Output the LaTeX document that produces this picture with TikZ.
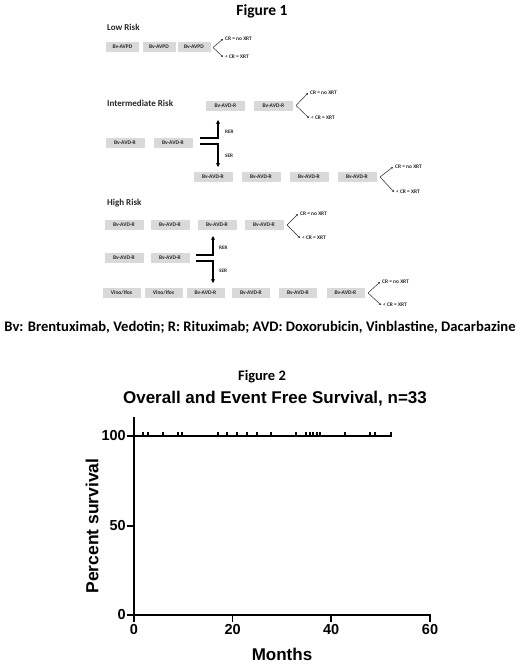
\documentclass[tikz,border=0pt]{standalone}
\usepackage{fontspec}
\setmainfont{Carlito}
\newfontfamily\arialf{Liberation Sans}
\usetikzlibrary{arrows.meta}
\definecolor{boxgray}{HTML}{D9D9D9}
\definecolor{txtgray}{HTML}{262626}
\begin{document}
\begin{tikzpicture}[x=1pt,y=-1pt,
  tbox/.style={fill=boxgray, minimum width=39pt, minimum height=10pt, inner sep=0pt,
    text=txtgray, font=\fontsize{5.5}{6}\selectfont\bfseries},
  sbox/.style={tbox, minimum width=33pt},
  brtxt/.style={anchor=west, inner sep=0pt, text=txtgray, font=\fontsize{5.4}{6}\selectfont\bfseries},
  br/.style={draw=txtgray, line width=0.5pt, -{Stealth[length=2.2pt,width=2pt]}},
  heavy/.style={draw=black, line width=1.2pt},
  harrow/.style={heavy, -{Stealth[length=4pt,width=4pt]}},
  risk/.style={anchor=west, inner sep=0pt, text=txtgray, font=\fontsize{9}{10}\selectfont\bfseries},
  armark/.style={inner sep=0pt, text=txtgray, font=\fontsize{5.2}{6}\selectfont\bfseries, anchor=west},
  axl/.style={line width=1.6pt, line cap=rect},
  ticklab/.style={inner sep=0pt, font=\arialf\fontsize{14.5}{16}\selectfont\bfseries}
]
\useasboundingbox (0,0) rectangle (520,664);

% ---------------- Figure 1 ----------------
\node[font=\fontsize{15.5}{17}\selectfont\bfseries] (fig1) at (262,11) {Figure 1};

% Low risk
\node[risk] (lowlab) at (107,27) {Low Risk};
\node[sbox] (l1) at (122.5,47) {Bv-AVPD};
\node[sbox] (l2) at (159,47) {Bv-AVPD};
\node[sbox] (l3) at (194,47) {Bv-AVPD};
\coordinate (lb) at (213,47.5);
\node[brtxt] (lcr) at (225,39) {CR = no XRT};
\node[brtxt] (llt) at (225,57) {< CR = XRT};
\draw[br] (lb) -- ([xshift=-2pt]lcr.west);
\draw[br] (lb) -- ([xshift=-2pt]llt.west);

% Intermediate risk
\node[risk] (intlab) at (107,103) {Intermediate Risk};
\node[tbox] (it1) at (225.5,105.5) {Bv-AVD-R};
\node[tbox] (it2) at (273.5,105.5) {Bv-AVD-R};
\coordinate (itb) at (296,105.5);
\node[brtxt] (itcr) at (310,93) {CR = no XRT};
\node[brtxt] (itlt) at (311,118) {< CR = XRT};
\draw[br] (itb) -- ([xshift=-2pt]itcr.west);
\draw[br] (itb) -- ([xshift=-2pt]itlt.west);

\node[tbox] (im1) at (125,143) {Bv-AVD-R};
\node[tbox] (im2) at (173,143) {Bv-AVD-R};
\coordinate (ius) at (200,138);
\coordinate (iuc) at (218,138);
\coordinate (iue) at (218,120);
\coordinate (ids) at (200,144);
\coordinate (idc) at (218,144);
\coordinate (ide) at (218,167);
\draw[harrow] (ius) -- (iuc) -- (iue);
\draw[harrow] (ids) -- (idc) -- (ide);
\node[armark] (irer) at (225,132) {RER};
\node[armark] (iser) at (225,156) {SER};

\node[tbox] (ib1) at (213,177) {Bv-AVD-R};
\node[tbox] (ib2) at (261,177) {Bv-AVD-R};
\node[tbox] (ib3) at (309,177) {Bv-AVD-R};
\node[tbox] (ib4) at (357,177) {Bv-AVD-R};
\coordinate (ibb) at (380,177);
\node[brtxt] (ibcr) at (395,167) {CR = no XRT};
\node[brtxt] (iblt) at (396,192) {< CR = XRT};
\draw[br] (ibb) -- ([xshift=-2pt]ibcr.west);
\draw[br] (ibb) -- ([xshift=-2pt]iblt.west);

% High risk
\node[risk] (highlab) at (107,203) {High Risk};
\node[tbox] (ht1) at (124,225) {Bv-AVD-R};
\node[tbox] (ht2) at (170,225) {Bv-AVD-R};
\node[tbox] (ht3) at (217,225) {Bv-AVD-R};
\node[tbox] (ht4) at (264,225) {Bv-AVD-R};
\coordinate (htb) at (287,225);
\node[brtxt] (htcr) at (300,214) {CR = no XRT};
\node[brtxt] (htlt) at (302,238) {< CR = XRT};
\draw[br] (htb) -- ([xshift=-2pt]htcr.west);
\draw[br] (htb) -- ([xshift=-2pt]htlt.west);

\node[tbox] (hm1) at (124,258) {Bv-AVD-R};
\node[tbox] (hm2) at (170,258) {Bv-AVD-R};
\coordinate (hus) at (196,255);
\coordinate (huc) at (213,255);
\coordinate (hue) at (213,236);
\coordinate (hds) at (196,261);
\coordinate (hdc) at (213,261);
\coordinate (hde) at (213,283);
\draw[harrow] (hus) -- (huc) -- (hue);
\draw[harrow] (hds) -- (hdc) -- (hde);
\node[armark] (hrer) at (219,248) {RER};
\node[armark] (hser) at (219,271) {SER};

\node[tbox, minimum width=38pt] (hb1) at (121.5,293) {Vino/Ifos};
\node[tbox, minimum width=38pt] (hb2) at (163.5,293) {Vino/Ifos};
\node[tbox, minimum width=38pt] (hb3) at (205.5,293) {Bv-AVD-R};
\node[tbox, minimum width=38pt] (hb4) at (251,293) {Bv-AVD-R};
\node[tbox, minimum width=38pt] (hb5) at (298,293) {Bv-AVD-R};
\node[tbox, minimum width=38pt] (hb6) at (345.5,293) {Bv-AVD-R};
\coordinate (hbb) at (368,293);
\node[brtxt] (hbcr) at (382,282) {CR = no XRT};
\node[brtxt] (hblt) at (383,305) {< CR = XRT};
\draw[br] (hbb) -- ([xshift=-2pt]hbcr.west);
\draw[br] (hbb) -- ([xshift=-2pt]hblt.west);

% caption
\node[font=\fontsize{14.6}{16}\selectfont\bfseries, inner sep=0pt] (cap) at (260,327)
  {Bv: Brentuximab, Vedotin; R: Rituximab; AVD: Doxorubicin, Vinblastine, Dacarbazine};

% ---------------- Figure 2 ----------------
\node[font=\fontsize{14.5}{16}\selectfont\bfseries] (fig2) at (262,377) {Figure 2};
\node[font=\arialf\fontsize{17}{19}\selectfont\bfseries, inner sep=0pt] (title) at (275,399)
  {Overall and Event Free Survival, n=33};

% axes
\coordinate (o) at (134,615);
\coordinate (ytop) at (134,418);
\coordinate (xend) at (430,615);
\draw[axl] (ytop) -- (o) -- (xend);
% y ticks
\foreach \yy/\lab in {436/100, 526/50, 615/0} {
  \draw[axl] (128,\yy) -- (134,\yy);
  \node[ticklab, anchor=east] at (126,\yy) {\lab};
}
% x ticks
\foreach \xx/\lab in {134/0, 232.6/20, 331.2/40, 430/60} {
  \draw[axl] (\xx,615) -- (\xx,621);
  \node[ticklab, anchor=north] at (\xx,624) {\lab};
}
\node[font=\arialf\fontsize{17}{19}\selectfont\bfseries] (xlab) at (282,654) {Months};
\node[font=\arialf\fontsize{17.5}{19}\selectfont\bfseries, rotate=90] (ylab) at (92,526) {Percent survival};

% survival curve
\coordinate (cs) at (134,436);
\coordinate (ce) at (391,436);
\draw[line width=1.4pt] (cs) -- (ce) -- ++(0,-4);
\foreach \cx in {143,148,163,178,182,218,227,237,247,257,271,296,306,310,313,317,320,345,370,375} {
  \draw[line width=1.1pt] (\cx,436) -- (\cx,432);
}
\end{tikzpicture}
\end{document}
